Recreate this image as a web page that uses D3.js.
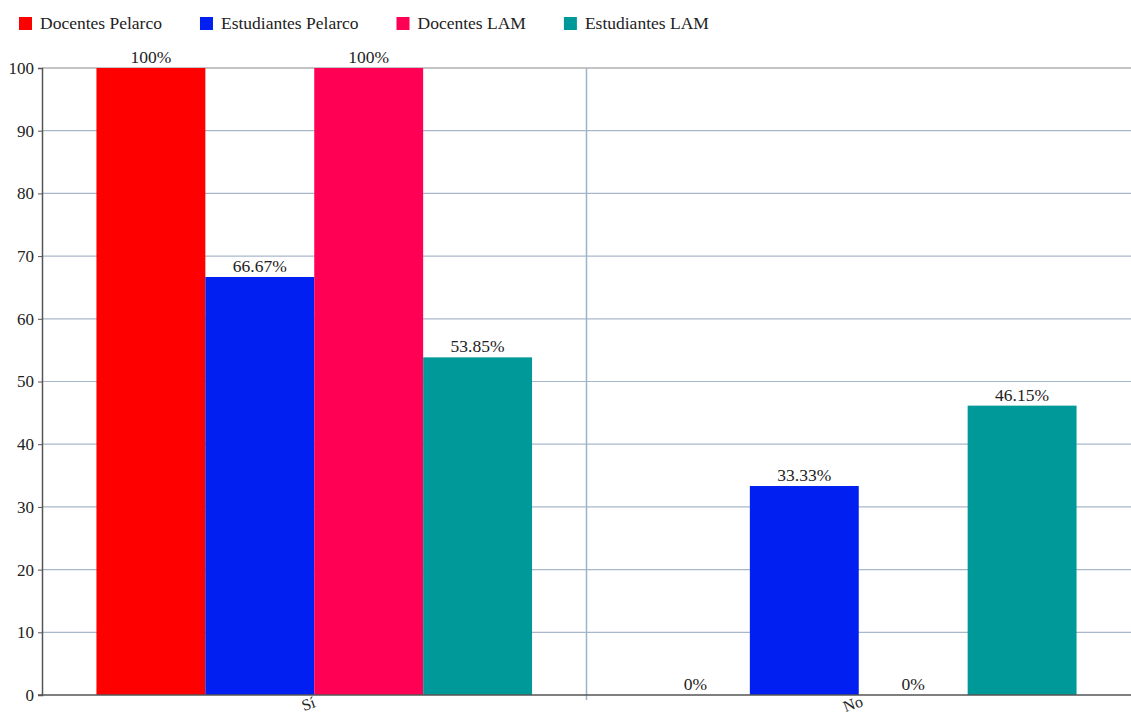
<!DOCTYPE html>
<html><head><meta charset="utf-8">
<script src="https://cdn.jsdelivr.net/npm/d3@7"></script>
<style>body{margin:0;background:#fff}svg{display:block}text{font-family:"Liberation Serif","Times New Roman",serif;fill:#222}</style>
</head><body><svg id="c" width="1131" height="714"></svg>
<script>
const categories = ["Sí", "No"];
const seriesNames = ["Docentes Pelarco", "Estudiantes Pelarco", "Docentes LAM", "Estudiantes LAM"];
const seriesColors = ["#ff0000", "#001ff0", "#ff0055", "#009999"];
const docentesPelarco = [100, 0];
const estudiantesPelarco = [66.67, 33.33];
const docentesLAM = [100, 0];
const estudiantesLAM = [53.85, 46.15];
const yTicks = [0,10,20,30,40,50,60,70,80,90,100];

const seriesValues = [docentesPelarco, estudiantesPelarco, docentesLAM, estudiantesLAM];
const svg = d3.select("#c");
const m = {l:42, r:0, t:68, b:19};
const W = 1131, H = 714;
const FS = 17.5;
const x0 = d3.scaleBand().domain(categories).range([m.l, W - m.r]).paddingInner(0).paddingOuter(0);
const x1 = d3.scaleBand().domain(seriesNames).range([0, x0.bandwidth()]).paddingOuter(0.5).paddingInner(0);
const y = d3.scaleLinear().domain([0,100]).range([H - m.b, m.t]);

// grid
svg.append("g").selectAll("line").data(yTicks.filter(t => t > 0 && t < 100)).join("line")
  .attr("x1", m.l).attr("x2", W).attr("y1", d => y(d)).attr("y2", d => y(d))
  .attr("stroke", "#a8b8cc").attr("stroke-width", 1.2);
svg.append("line").attr("x1", m.l).attr("x2", W).attr("y1", y(100)).attr("y2", y(100))
  .attr("stroke", "#b0b0b0").attr("stroke-width", 1.5);
categories.slice(1).forEach(c => {
  svg.append("line").attr("x1", x0(c)).attr("x2", x0(c)).attr("y1", y(100)).attr("y2", y(0) + 5)
    .attr("stroke", "#9fb2c8").attr("stroke-width", 1.5);
});

// bars
const g = svg.append("g");
categories.forEach((c, ci) => {
  seriesNames.forEach((s, si) => {
    const v = seriesValues[si][ci];
    const bx = x0(c) + x1(s);
    g.append("rect").attr("x", bx).attr("y", y(v)).attr("width", x1.bandwidth()).attr("height", y(0) - y(v))
      .attr("fill", seriesColors[si]);
  });
});
// labels
categories.forEach((c, ci) => {
  seriesNames.forEach((s, si) => {
    const v = seriesValues[si][ci];
    const cx = x0(c) + x1(s) + x1.bandwidth() / 2;
    const t = v + "%";
    const ty = y(v) - 5;
    const txt = svg.append("text").attr("x", cx).attr("y", ty).attr("text-anchor", "middle").attr("font-size", FS).text(t);
    const bb = txt.node().getBBox();
    svg.insert("rect", "text").attr("x", bb.x - 4).attr("y", ty - 14).attr("width", bb.width + 8).attr("height", 17).attr("fill", "#fff");
  });
});

// axes
const yAxis = svg.append("g").attr("transform", `translate(${m.l},0)`)
  .call(d3.axisLeft(y).tickValues(yTicks).tickSize(4).tickPadding(4));
yAxis.select(".domain").attr("stroke", "#555").attr("stroke-width", 1.5);
yAxis.selectAll(".tick line").attr("stroke", "#555");
yAxis.selectAll(".tick text").attr("font-size", 17).attr("fill", "#222").attr("font-family", "Liberation Serif, serif");

svg.append("line").attr("x1", m.l - 4).attr("x2", W).attr("y1", y(0)).attr("y2", y(0)).attr("stroke", "#555").attr("stroke-width", 1.5);
categories.forEach(c => {
  const cx = x0(c) + x0.bandwidth()/2;
  svg.append("text").attr("transform", `translate(${cx - 4},${y(0) + 14}) rotate(-20)`)
    .attr("text-anchor", "middle").attr("font-size", 16).text(c);
});

// legend (flowing)
let lx = 19;
seriesNames.forEach((s, i) => {
  svg.append("rect").attr("x", lx).attr("y", 17).attr("width", 13).attr("height", 13).attr("fill", seriesColors[i]);
  const t = svg.append("text").attr("x", lx + 21).attr("y", 29).attr("font-size", FS).text(s);
  lx = lx + 21 + t.node().getComputedTextLength() + 38;
});
</script></body></html>
